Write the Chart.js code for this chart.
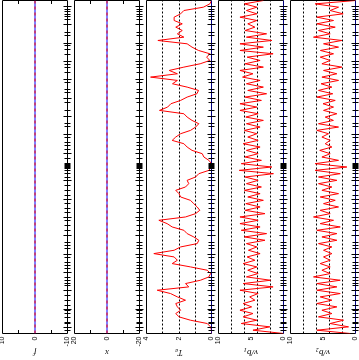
<!DOCTYPE html>
<html><head><meta charset="utf-8">
<script src="https://cdn.jsdelivr.net/npm/chart.js@4.4.0/dist/chart.umd.min.js"></script>
<style>
html,body{margin:0;padding:0;background:#fff;overflow:hidden;width:359px;height:360px;}
#wrap{position:absolute;left:0;top:0;width:360px;height:359px;transform-origin:0 0;transform:translateY(360px) rotate(-90deg);}
#wrap canvas{position:absolute;left:0;top:0;}
</style></head><body><div id="wrap"></div>
<script>
// ---- data (sample index 0 = top of the picture) ----
const edgeIdx = [0, 100];
const fVals = [0, 0];
const xVals = [0, 0];
const zeroRef = [0, 0];
const t3 = [0.0,0.1,0.5,1.7,1.9,2.3,2.3,1.8,2.2,1.8,
 2.1,1.7,3.3,1.5,1.2,0.8,0.1,0.3,0.1,0.7,
 1.7,2.6,2.1,3.75,2.1,2.4,1.5,0.8,0.9,1.5,
 1.9,2.5,2.7,3.2,1.7,1.5,1.2,0.78,0.98,1.29,
 1.9,2.2,2.42,1.7,1.5,1.2,0.57,0.47,0.16,0.0,
 0.0,0.16,0.78,0.98,1.5,1.4,1.6,2.2,2.0,1.9,
 1.3,1.09,0.88,0.72,0.98,1.6,3.24,2.73,2.42,1.7,
 1.5,1.09,0.78,0.88,1.9,2.3,3.55,2.3,2.1,2.42,
 1.29,0.26,0.06,0.16,0.68,1.6,1.4,3.34,2.52,2.1,
 1.6,2.2,2.1,1.9,2.2,2.0,1.3,0.26,0.06,0.0,
 0.0];
const p4 = [3.1,6.0,4.1,5.7,4.1,6.7,4.1,5.5,4.4,5.9,
 2.6,5.7,1.8,6.7,3.1,6.7,1.6,5.6,3.6,5.9,
 3.1,6.7,4.7,6.3,3.6,5.7,3.1,5.5,2.6,5.9,
 3.4,6.7,4.1,6.7,3.9,5.8,3.1,5.7,3.6,6.0,
 4.1,5.5,3.9,6.2,3.6,5.7,3.9,5.9,3.4,6.5,
 1.8,6.8,1.55,5.9,3.9,5.7,3.4,6.0,3.6,5.5,
 3.1,5.8,3.6,5.9,2.85,6.7,3.9,6.7,3.6,6.5,
 2.6,6.0,2.85,5.7,4.1,5.4,3.6,5.6,4.4,6.2,
 4.1,5.5,3.9,5.7,2.0,6.2,1.6,6.7,3.9,5.2,
 4.4,6.2,4.9,6.7,4.7,6.2,4.1,6.5,2.1,4.7,
 0.0];
const p5 = [0.0,6.2,2.61,3.9,1.9,5.94,3.38,5.94,3.12,5.69,
 3.89,6.46,2.1,4.92,2.61,5.4,3.38,5.43,3.89,5.17,
 2.1,4.92,2.87,5.17,2.61,5.3,3.63,5.69,3.5,5.94,
 3.12,5.0,3.38,4.92,2.87,4.66,3.4,5.69,2.61,5.94,
 4.15,5.17,3.89,4.66,3.63,5.5,3.89,5.17,2.61,6.2,
 1.33,6.2,2.35,5.69,2.87,5.69,3.63,5.17,2.61,5.43,
 3.12,4.92,2.61,5.43,3.89,6.46,3.38,5.43,2.35,5.94,
 2.87,5.17,2.87,5.69,3.63,4.92,3.63,4.92,3.89,5.43,
 3.89,5.17,3.89,6.46,2.35,5.94,2.87,5.94,2.35,5.43,
 3.63,5.94,2.87,5.17,3.63,5.7,1.84,3.9,1.07,5.94,
 0.82];
// tick labels / reference values
const fTicks = [-10, 0, 10];
const xTicks = [-20, 0, 20];
const tTicks = [0, 2, 4];
const vTicks = [0, 5, 10];
const fMinor = [-5, 5];
const xMinor = [-10, 10];
const tGrid = [1, 2, 3];
const vGrid = [2, 4, 6, 8];
const majorTickIdx = [1.8,7.3,12.8,18.3,23.8,29.3,34.8,40.3,45.8,54.2,59.7,65.2,70.7,76.2,81.7,87.2,92.7,98.2];
const minorTickIdx = [2.6,3.3,4.1,4.8,5.7,9.5,10.4,13.5,14.6,16.1,19.1,20.0,21.5,24.6,26.6,27.6,30.6,33.0,36.9,37.8,
 41.1,42.5,43.5,44.6,47.4,48.9,49.2,49.5,49.8,50.1,50.4,51.1,52.0,53.1,55.6,57.1,58.6,61.1,62.6,63.6,
 66.1,67.6,69.1,72.6,73.6,74.6,77.1,78.6,79.6,80.6,83.1,84.1,85.1,85.6,88.6,90.1,91.6,93.1,94.1,95.1,96.6,97.1,99.1];

const seq = arr => arr.map((v, i) => ({x: i, y: v}));
const edge = arr => edgeIdx.map((xv, k) => ({x: xv, y: arr[k]}));

const RED = '#ff0000', BLUE = '#0000ff';
const panels = [
  {title:'f', min:-10, max:10, labels:fTicks, minor:fMinor, grid:null, top:2.5, bottom:67.5,
   datasets:[{data:edge(fVals), borderColor:RED, borderDash:[3,3]}, {data:edge(zeroRef), borderColor:BLUE}]},
  {title:'x', min:-20, max:20, labels:xTicks, minor:xMinor, grid:null, top:74.5, bottom:139.5,
   datasets:[{data:edge(xVals), borderColor:RED, borderDash:[3,3]}, {data:edge(zeroRef), borderColor:BLUE}]},
  {title:'T\u2090', min:0, max:4, labels:tTicks, minor:null, grid:tGrid, top:146.5, bottom:211.5,
   datasets:[{data:edge(zeroRef), borderColor:BLUE}, {data:seq(t3), borderColor:RED}]},
  {title:'v/b\u2081', min:0, max:10, labels:vTicks, minor:null, grid:vGrid, top:218.5, bottom:283.5,
   datasets:[{data:edge(zeroRef), borderColor:BLUE}, {data:seq(p4), borderColor:RED}]},
  {title:'v/b\u2082', min:0, max:10, labels:vTicks, minor:null, grid:vGrid, top:290.5, bottom:355.5,
   datasets:[{data:edge(zeroRef), borderColor:BLUE}, {data:seq(p5), borderColor:RED}]}
];

const frame = {
  id: 'frame',
  beforeDatasetsDraw(chart, args, o) {
    const {ctx, chartArea: a} = chart; const y = chart.scales.y;
    ctx.save(); ctx.strokeStyle = '#000'; ctx.lineWidth = 1;
    if (o.grid) {
      ctx.setLineDash([2, 2]);
      for (const v of o.grid) {
        const py = Math.floor(y.getPixelForValue(v)) + 0.5;
        ctx.beginPath(); ctx.moveTo(a.left, py); ctx.lineTo(a.right, py); ctx.stroke();
      }
      ctx.setLineDash([]);
    }
    ctx.beginPath();
    ctx.moveTo(a.left, a.top); ctx.lineTo(a.right, a.top);
    ctx.moveTo(a.left, a.top); ctx.lineTo(a.left, a.bottom);
    ctx.moveTo(a.right, a.top); ctx.lineTo(a.right, a.bottom);
    ctx.moveTo(a.left, a.bottom); ctx.lineTo(a.right, a.bottom);
    ctx.stroke();
    ctx.restore();
  },
  afterDatasetsDraw(chart, args, o) {
    const {ctx, chartArea: a} = chart; const y = chart.scales.y, x = chart.scales.x;
    ctx.save(); ctx.strokeStyle = '#000'; ctx.lineWidth = 1;
    ctx.beginPath();
    if (o.minor) {
      for (const v of o.minor) {
        const py = Math.floor(y.getPixelForValue(v)) + 0.5;
        ctx.moveTo(a.left, py); ctx.lineTo(a.left + 3.5, py);
        ctx.moveTo(a.right - 3.5, py); ctx.lineTo(a.right, py);
      }
    }
    for (const t of minorTickIdx) {
      const px = Math.floor(x.getPixelForValue(t)) + 0.5;
      ctx.moveTo(px, a.bottom - 3); ctx.lineTo(px, a.bottom + 3);
    }
    for (const t of majorTickIdx) {
      const px = Math.floor(x.getPixelForValue(t)) + 0.5;
      ctx.moveTo(px, a.bottom - 4); ctx.lineTo(px, a.bottom + 4);
    }
    ctx.stroke();
    ctx.restore();
  }
};

const wrap = document.getElementById('wrap');
panels.forEach(p => {
  const cv = document.createElement('canvas');
  cv.width = 360; cv.height = 359;
  wrap.appendChild(cv);
  new Chart(cv, {
    type: 'line',
    data: {datasets: p.datasets.map(d => Object.assign({borderWidth:1, pointRadius:0, tension:0, fill:false}, d))},
    options: {
      responsive: false, animation: false, devicePixelRatio: 1,
      layout: {padding: {top: p.top, bottom: 359 - p.bottom, left: 0, right: 0.5}},
      plugins: {legend: {display: false}, tooltip: {enabled: false}, frame: {grid: p.grid, minor: p.minor}},
      elements: {point: {radius: 0}, line: {tension: 0, borderWidth: 1}},
      scales: {
        x: {type: 'linear', min: 0, max: 100, reverse: true, display: false},
        y: {type: 'linear', min: p.min, max: p.max, position: 'left',
            grid: {display: false, drawTicks: false}, border: {display: false},
            ticks: {padding: 3, color: '#000', font: {family: 'Liberation Sans', size: 7}, autoSkip: false, maxRotation: 0,
                    callback: v => String(v)},
            afterBuildTicks: s => { s.ticks = p.labels.map(v => ({value: v})); },
            afterFit: s => { s.width = 26.5; s.paddingTop = 0; s.paddingBottom = 0; },
            title: {display: true, text: p.title, color: '#000',
                    font: {family: 'Liberation Serif', size: 9, style: 'italic'}, padding: {top: 2, bottom: 0}}
        }
      }
    },
    plugins: [frame]
  });
});
</script></body></html>
